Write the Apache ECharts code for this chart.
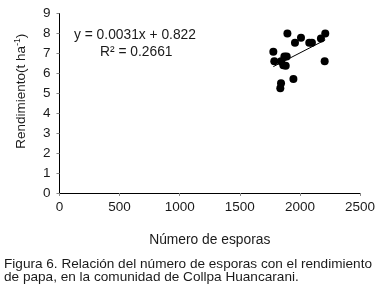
<!DOCTYPE html>
<html><head><meta charset="utf-8">
<script src="https://cdn.jsdelivr.net/npm/echarts@6/dist/echarts.min.js"></script>
<style>html,body{margin:0;padding:0;background:#fff;}#c{width:382px;height:295px;}</style>
</head><body><div id="c"></div>
<script>
var esporas = [1779,1787,1843,1871,1890,1862,1882,1843,1837,1896,1946,1959,2009,2078,2100,2175,2211,2206];
var rendimiento = [7.08,6.6,6.6,6.85,6.85,6.4,6.38,5.5,5.25,8.0,5.72,7.53,7.78,7.53,7.53,7.75,8.0,6.6];
var xTicks = [0,500,1000,1500,2000,2500];
var yTicks = [0,1,2,3,4,5,6,7,8,9];
var slope = 0.0031, intercept = 0.822;
var eqText = 'y = 0.0031x + 0.822';
var r2Text = 'R² = 0.2661';
var xName = 'Número de esporas';
var caption = ['Figura 6. Relación del número de esporas con el rendimiento', 'de papa, en la comunidad de Collpa Huancarani.'];

var xmin = Math.min.apply(null, esporas), xmax = Math.max.apply(null, esporas);
var trend = [[xmin, slope*xmin+intercept],[xmax, slope*xmax+intercept]];
var pts = esporas.map(function(x,i){return [x, rendimiento[i]];});
var font = 'Liberation Sans, Arial, sans-serif';
var tc = '#1a1a1a';
var chart = echarts.init(document.getElementById('c'), null, {renderer:'canvas'});
chart.setOption({
  animation:false,
  grid:{left:59.5, top:13.5, right:22, bottom:102, containLabel:false},
  xAxis:[{type:'value', min:xTicks[0], max:xTicks[xTicks.length-1], interval:500,
    name:xName, nameLocation:'middle', nameGap:40,
    nameTextStyle:{fontFamily:font, fontSize:13.8, color:tc},
    axisLine:{show:true, lineStyle:{color:'#888', width:1}},
    axisTick:{show:true, inside:false, length:3, lineStyle:{color:'#888'}},
    axisLabel:{fontFamily:font, fontSize:13.5, color:tc, margin:7, formatter:function(v){return String(v);}},
    splitLine:{show:false}},
   {type:'value', position:'top', min:0, max:2500, axisLine:{show:true, lineStyle:{color:'#000'}}, axisTick:{show:false}, axisLabel:{show:false}, splitLine:{show:false}}],
  yAxis:[{type:'value', min:yTicks[0], max:yTicks[yTicks.length-1], interval:1,
    name:'{a|Rendimiento(t ha}{s|-1}{a|)}', nameLocation:'middle', nameGap:31,
    nameTextStyle:{fontFamily:font, fontSize:13.5, color:tc, padding:[0,0,0,24],
      rich:{a:{fontFamily:font, fontSize:13.5, color:tc}, s:{fontFamily:font, fontSize:8.5, color:tc, verticalAlign:'top', padding:[0,0,6,0]}}},
    axisLine:{show:true, lineStyle:{color:'#888', width:1}},
    axisTick:{show:true, inside:false, length:3, lineStyle:{color:'#888'}},
    axisLabel:{fontFamily:font, fontSize:13.5, color:tc, margin:9},
    splitLine:{show:false}},
   {type:'value', position:'right', min:0, max:9, axisLine:{show:true, lineStyle:{color:'#000'}}, axisTick:{show:false}, axisLabel:{show:false}, splitLine:{show:false}}],
  series:[
    {type:'scatter', data:pts, symbol:'circle', symbolSize:8, itemStyle:{color:'#000', opacity:1}},
    {type:'line', data:trend, symbol:'none', lineStyle:{color:'#000', width:1}}
  ],
  graphic:[
    {type:'text', left:74, top:28, style:{text:eqText, font:'13.8px '+font, fill:tc}},
    {type:'text', left:100, top:45, style:{text:r2Text, font:'13.8px '+font, fill:tc}},
    {type:'text', left:4, top:257, style:{text:caption.join('\n'), font:'13.6px '+font, fill:tc, lineHeight:13}}
  ]
});
</script></body></html>
